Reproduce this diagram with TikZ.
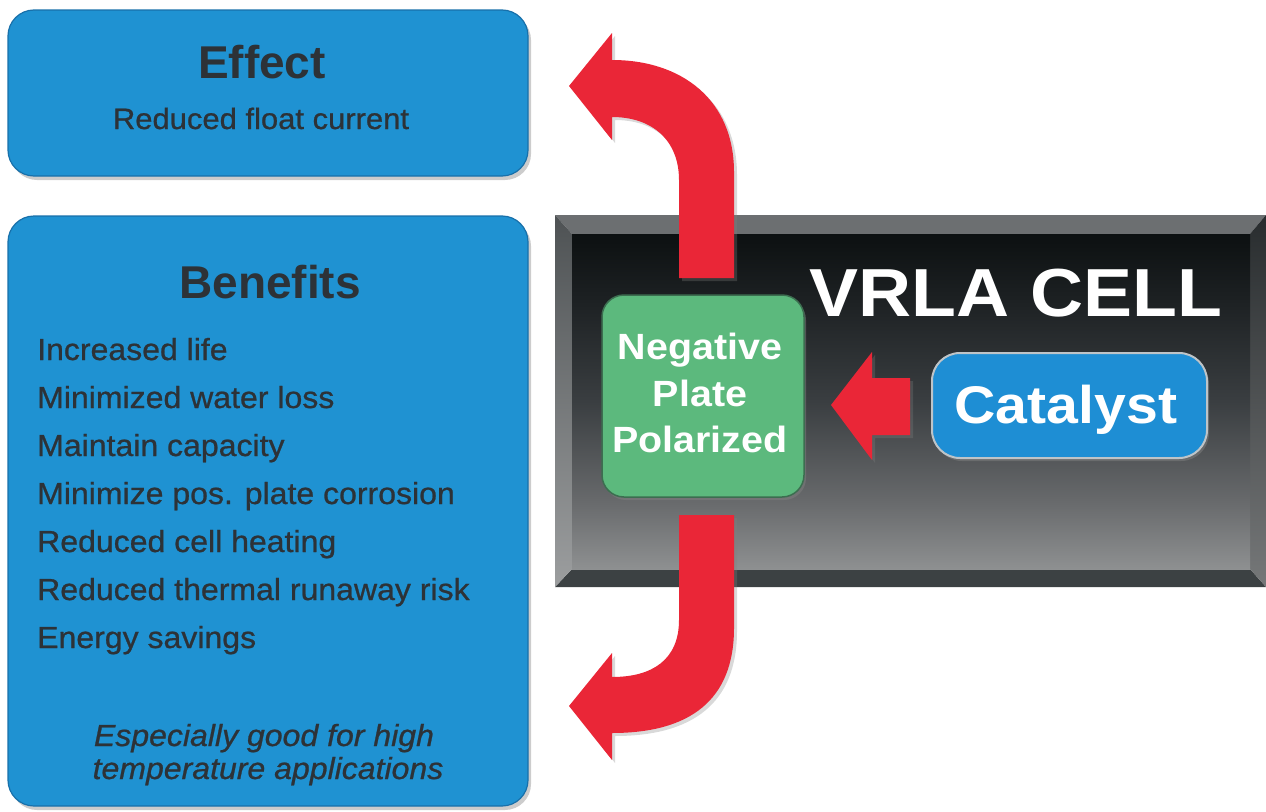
\documentclass[tikz,border=0pt]{standalone}
\usepackage{fontspec}
\setmainfont{Liberation Sans}
\newfontfamily\txtfont{Liberation Sans}[FakeStretch=1.05,FakeBold=0.8]
\newfontfamily\hdfont{Liberation Sans}
\newfontfamily\whitefont{Liberation Sans}[FakeStretch=1.08]
\usetikzlibrary{shadows}
\definecolor{boxblue}{RGB}{31,146,210}
\definecolor{boxedge}{RGB}{24,112,170}
\definecolor{txtdark}{RGB}{45,50,55}
\definecolor{arrowred}{RGB}{234,38,55}
\definecolor{plategreen}{RGB}{92,185,125}
\definecolor{plateedge}{RGB}{60,110,80}
\definecolor{catblue}{RGB}{30,142,212}
\definecolor{catedge}{RGB}{190,196,200}
\definecolor{ct}{RGB}{12,16,17}
\definecolor{ca}{RGB}{29,33,35}
\definecolor{cm}{RGB}{58,62,65}
\definecolor{cc}{RGB}{104,106,108}
\definecolor{cb}{RGB}{142,144,145}
\definecolor{beveltop}{RGB}{108,111,113}
\definecolor{bevelbot}{RGB}{60,65,67}
\definecolor{bevelleftA}{RGB}{78,82,84}
\definecolor{bevelleftB}{RGB}{156,158,159}
\definecolor{bevelrightA}{RGB}{40,44,46}
\definecolor{bevelrightB}{RGB}{118,120,121}
\pgfdeclareverticalshading{cellface}{100bp}{color(0bp)=(cb); color(25bp)=(cb); color(35bp)=(cc); color(50bp)=(cm); color(65bp)=(ca); color(75bp)=(ct); color(100bp)=(ct)}
\tikzset{
  bluebox/.style={draw=boxedge, line width=1.2pt, fill=boxblue, rounded corners=26pt, inner sep=0pt,
    drop shadow={shadow xshift=3pt, shadow yshift=-4pt, opacity=0.4}},
  title/.style={anchor=base, inner sep=0pt, text=txtdark, font=\hdfont\bfseries\fontsize{46}{50}\selectfont},
  item/.style={anchor=base west, inner sep=0pt, text=txtdark, font=\txtfont\fontsize{30.5}{34}\selectfont},
  note/.style={anchor=base, inner sep=0pt, text=txtdark, font=\txtfont\itshape\fontsize{30.5}{34}\selectfont},
  platebox/.style={draw=plateedge, line width=1.5pt, fill=plategreen, rounded corners=22pt, inner sep=0pt,
    drop shadow={shadow xshift=2pt, shadow yshift=-3pt, opacity=0.5}},
  catbox/.style={draw=catedge, line width=2pt, fill=catblue, rounded corners=28pt, inner sep=0pt,
    drop shadow={shadow xshift=2pt, shadow yshift=-3pt, opacity=0.5}},
  whitetxt/.style={anchor=base, inner sep=0pt, text=white},
  redarrow/.style={fill=arrowred, drop shadow={shadow xshift=3pt, shadow yshift=-3pt, opacity=0.3}}
}
\begin{document}
\begin{tikzpicture}[x=1pt, y=-1pt]
\useasboundingbox (0,0) rectangle (1266,811);

% Effect box
\node[bluebox, minimum width=520pt, minimum height=166pt] (effect) at (268,93) {};
\node[title] (efftitle) at (262,78) {Effect};
\node[anchor=base, inner sep=0pt, text=txtdark, font=\txtfont\fontsize{29.5}{34}\selectfont] (effsub) at (261,129) {Reduced float current};

% Benefits box
\node[bluebox, minimum width=520pt, minimum height=590pt] (benefits) at (268,511) {};
\node[title] (bentitle) at (270,298) {Benefits};
\node[item] (b1) at (37,360) {Increased life};
\node[item] (b2) at (37,408) {Minimized water loss};
\node[item] (b3) at (37,456) {Maintain capacity};
\node[item] (b4) at (37,504) {Minimize pos. plate corrosion};
\node[item] (b5) at (37,552) {Reduced cell heating};
\node[item] (b6) at (37,600) {Reduced thermal runaway risk};
\node[item] (b7) at (37,648) {Energy savings};
\node[note] (n1) at (264,746) {Especially good for high};
\node[note] (n2) at (268,779) {temperature applications};

% VRLA cell
\fill[beveltop] (555,215) -- (1266,215) -- (1250,234) -- (572,234) -- cycle;
\fill[bevelbot] (555,587) -- (572,569) -- (1250,569) -- (1266,587) -- cycle;
\shade[top color=bevelleftA, bottom color=bevelleftB] (555,215) -- (572,234) -- (572,569) -- (555,587) -- cycle;
\shade[top color=bevelrightA, bottom color=bevelrightB] (1266,215) -- (1250,234) -- (1250,569) -- (1266,587) -- cycle;
\node[shading=cellface, inner sep=0pt, minimum width=678pt, minimum height=335pt] (cell) at (911,401.5) {};
\node[whitetxt, font=\whitefont\bfseries\fontsize{68}{72}\selectfont] (celltitle) at (1016,316) {VRLA CELL};

% Negative plate
\node[platebox, minimum width=202pt, minimum height=202pt] (plate) at (703,396) {};
\node[whitetxt, font=\whitefont\bfseries\fontsize{36.5}{40}\selectfont] (p1) at (700,359) {Negative};
\node[whitetxt, font=\whitefont\bfseries\fontsize{36.5}{40}\selectfont] (p2) at (700,406) {Plate};
\node[whitetxt, font=\whitefont\bfseries\fontsize{36.5}{40}\selectfont] (p3) at (700,452) {Polarized};

% Catalyst
\node[catbox, minimum width=275pt, minimum height=105pt] (catalyst) at (1069.5,405.5) {};
\node[whitetxt, font=\whitefont\bfseries\fontsize{53}{56}\selectfont] (cattxt) at (1066,423) {Catalyst};

% Arrow catalyst -> plate
\path[redarrow] (910,378) -- (872,378) -- (872,352) -- (831,405) -- (872,460) -- (872,435) -- (910,435) -- cycle;

% Arrow plate -> effect
\path[redarrow] (679,278) -- (679,180) .. controls (679,140) and (652,117) .. (612,117) -- (612,140) -- (569,86)
  -- (612,33) -- (612,60) .. controls (682,60) and (734,100) .. (734,172) -- (734,278) -- cycle;

% Arrow plate -> benefits
\path[redarrow] (679,515) -- (679,620) .. controls (679,660) and (652,677) .. (612,677) -- (612,653) -- (569,706)
  -- (612,760) -- (612,733) .. controls (690,733) and (734,700) .. (734,628) -- (734,515) -- cycle;
\end{tikzpicture}
\end{document}
